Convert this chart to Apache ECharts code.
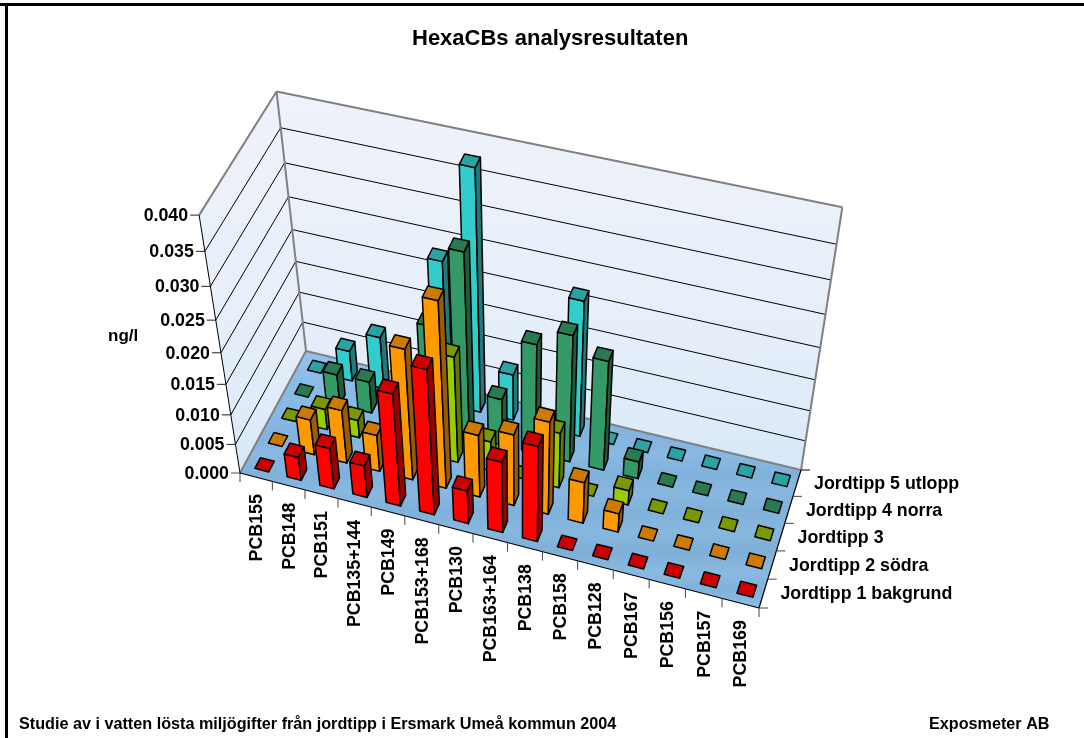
<!DOCTYPE html>
<html>
<head>
<meta charset="utf-8">
<style>html,body{margin:0;padding:0;background:#fff}#main{width:1084px;height:738px}</style>
<script src="https://cdn.jsdelivr.net/npm/echarts@6/dist/echarts.min.js"></script>
</head>
<body>
<div id="main"></div>
<script>
var compounds = ['PCB155','PCB148','PCB151','PCB135+144','PCB149','PCB153+168','PCB130','PCB163+164','PCB138','PCB158','PCB128','PCB167','PCB156','PCB157','PCB169'];
var sites = ['Jordtipp 1 bakgrund','Jordtipp 2 södra','Jordtipp 3','Jordtipp 4 norra','Jordtipp 5 utlopp'];
var valueTicks = ['0.000','0.005','0.010','0.015','0.020','0.025','0.030','0.035','0.040'];

var site1 = [0, 0.004, 0.007, 0.0055, 0.0187, 0.0238, 0.0057, 0.012, 0.016, 0, 0, 0, 0, 0, 0];
var site2 = [0, 0.006, 0.009, 0.0062, 0.0215, 0.03, 0.0105, 0.012, 0.0155, 0.007, 0.0032, 0, 0, 0, 0];
var site3 = [0, 0.0035, 0.003, 0.002, 0, 0.0175, 0.005, 0, 0.0093, 0, 0.0025, 0, 0, 0, 0];
var site4 = [0, 0.0052, 0.0053, 0, 0.017, 0.0295, 0.0078, 0.018, 0.0207, 0.018, 0.0029, 0, 0, 0, 0];
var site5 = [0, 0.0051, 0.0087, 0, 0.0232, 0.0378, 0.0077, 0, 0.022, 0, 0, 0, 0, 0, 0];
var siteValues = [site1, site2, site3, site4, site5];

// front, top, side
var siteColors = [
    ['#ff0000', '#cc0000', '#990000'],
    ['#ff9900', '#cc7a00', '#995c00'],
    ['#99cc00', '#7a9900', '#5c7a00'],
    ['#339966', '#297a52', '#1f5c3d'],
    ['#33cccc', '#29a3a3', '#1f7a7a']
];

var zMax = 0.04;
var barX = 0.43, barY = 0.42;
var barShift = 0.05; // bars sit a little right of the cell centre

// corners: floor front-left, front-right, back-right, back-left
var fl = [[240, 473], [759, 608], [801, 470], [306, 351]];
// top of the walls at front-left, back-right and back-left
var tops = [[[0, 0], [199, 213]], [[1, 1], [842, 211]], [[0, 1], [277, 90]]];

var H = (function () {
    var x = fl.map(function (p) { return p[0]; }), y = fl.map(function (p) { return p[1]; });
    var dx1 = x[1] - x[2], dx2 = x[3] - x[2], dx3 = x[0] - x[1] + x[2] - x[3];
    var dy1 = y[1] - y[2], dy2 = y[3] - y[2], dy3 = y[0] - y[1] + y[2] - y[3];
    var den = dx1 * dy2 - dx2 * dy1;
    var g = (dx3 * dy2 - dx2 * dy3) / den, h = (dx1 * dy3 - dx3 * dy1) / den;
    return {
        a: x[1] - x[0] + g * x[1], b: x[3] - x[0] + h * x[3], c: x[0],
        d: y[1] - y[0] + g * y[1], e: y[3] - y[0] + h * y[3], f: y[0],
        g: g, h: h
    };
})();

// height column of the camera matrix, least squares on the three wall corners
(function () {
    var X = [], Y = [], B = [], C = [];
    tops.forEach(function (t) {
        var u = t[0][0], v = t[0][1];
        var w = H.g * u + H.h * v + 1;
        X.push(t[1][0]); Y.push(t[1][1]);
        B.push(t[1][0] * w - (H.a * u + H.b * v + H.c));
        C.push(t[1][1] * w - (H.d * u + H.e * v + H.f));
    });
    function mean(a) { return (a[0] + a[1] + a[2]) / 3; }
    var mx = mean(X), my = mean(Y), mb = mean(B), mc = mean(C), top = 0, bot = 0;
    for (var i = 0; i < 3; i++) {
        top += (X[i] - mx) * (B[i] - mb) + (Y[i] - my) * (C[i] - mc);
        bot += (X[i] - mx) * (X[i] - mx) + (Y[i] - my) * (Y[i] - my);
    }
    H.r = -top / bot;
    H.p = mb + H.r * mx;
    H.q = mc + H.r * my;
})();

// u,v in 0..1 over the floor, z in 0..1 up the wall
function project(u, v, z) {
    var w = H.g * u + H.h * v + 1 + H.r * z;
    return [(H.a * u + H.b * v + H.c + H.p * z) / w, (H.d * u + H.e * v + H.f + H.q * z) / w];
}

function zScale(v) {
    return echarts.number.linearMap(v, [0, zMax], [0, 1], true);
}

function poly(pts, fill, stroke, lw) {
    return {type: 'polygon', shape: {points: pts}, style: {fill: fill, stroke: stroke || 'none', lineWidth: lw || 0, lineJoin: 'round'}};
}
function line(a, b, color, lw) {
    return {type: 'line', shape: {x1: a[0], y1: a[1], x2: b[0], y2: b[1]}, style: {stroke: color, lineWidth: lw, fill: 'none'}};
}
function label(x, y, text, align, rot) {
    return {
        type: 'text', x: x, y: y, rotation: rot || 0,
        style: {x: 0, y: 0, text: text, fill: '#000', font: 'bold 17.8px "Liberation Sans", Arial, sans-serif', align: align, verticalAlign: 'middle'}
    };
}

function wallGradient() {
    return new echarts.graphic.LinearGradient(0, 0, 0, 1, [
        {offset: 0, color: '#eff2f9'}, {offset: 0.55, color: '#e8eff9'}, {offset: 0.85, color: '#dfebf9'}, {offset: 1, color: '#d6e8f8'}
    ]);
}
function floorGradient() {
    var stops = [
        [0, '#93c1ea'], [0.12, '#8bbce8'], [0.25, '#86b8e4'], [0.33, '#82b3de'], [0.4, '#8ab9e2'],
        [0.48, '#7fb1db'], [0.55, '#88b8df'], [0.62, '#80b1d9'], [0.7, '#87b7dd'], [0.78, '#7eafd7'],
        [0.86, '#8ab9e0'], [0.93, '#80b2dc'], [1, '#8dbde6']
    ];
    return new echarts.graphic.LinearGradient(0, 0, 0, 1, stops.map(function (s) {
        return {offset: s[0], color: s[1]};
    }));
}

// walls, floor, grid lines, ticks and tick labels
function renderBox() {
    var ch = [];
    var a0 = project(0, 0, 0), b0 = project(1, 0, 0), c0 = project(1, 1, 0), d0 = project(0, 1, 0);
    var a1 = project(0, 0, 1), c1 = project(1, 1, 1), d1 = project(0, 1, 1);
    ch.push(poly([a0, d0, d1, a1], wallGradient()));
    ch.push(poly([d0, c0, c1, d1], wallGradient()));

    valueTicks.forEach(function (t) {
        var z = zScale(+t);
        var p = project(0, 0, z), q = project(0, 1, z), s = project(1, 1, z);
        if (z > 0 && z < 1) {
            ch.push(line(p, q, '#000', 1));
            ch.push(line(q, s, '#000', 1));
        }
        ch.push(line([p[0] - 9, p[1]], p, z < 0.01 ? '#555' : '#222', 1));
        ch.push(label(p[0] - 11, p[1] + 1, t, 'right'));
    });

    ch.push(poly([a0, b0, c0, d0], floorGradient()));
    ch.push(line(d0, c0, '#808080', 2));
    ch.push(line(a1, d1, '#808080', 2));
    ch.push(line(d1, c1, '#808080', 2));
    ch.push(line(d0, d1, '#808080', 2));
    ch.push(line(c0, c1, '#808080', 2));
    ch.push(line(a0, d0, '#808080', 2));
    ch.push(line(a0, a1, '#000', 1));
    ch.push(line(a0, b0, '#000', 1.2));
    ch.push(line(b0, c0, '#000', 1.2));

    compounds.forEach(function (name, i) {
        var p = project(i / compounds.length, 0, 0);
        ch.push(line(p, [p[0], p[1] + 9], '#444', 1));
        var m = project((i + 0.5) / compounds.length, 0, 0);
        ch.push(label(m[0] + 1, m[1] + 17, name, 'right', Math.PI / 2));
    });
    var e = project(1, 0, 0);
    ch.push(line(e, [e[0], e[1] + 9], '#444', 1));

    sites.forEach(function (name, j) {
        var p = project(1, j / sites.length, 0);
        ch.push(line(p, [p[0] + 9, p[1]], '#444', 1));
        var m = project(1, (j + 0.5) / sites.length, 0);
        ch.push(label(m[0] + 17, m[1] + 1, name, 'left'));
    });
    var f = project(1, 1, 0);
    ch.push(line(f, [f[0] + 9, f[1]], '#000', 1));

    return {type: 'group', children: ch};
}

function renderBar(params, api) {
    var i = api.value(0), j = api.value(1), z = zScale(api.value(2));
    var c = api.coord([i, j]), s = api.size([1, 1]);
    var rect = params.coordSys;
    var u = (c[0] - rect.x + barShift * s[0]) / rect.width, v = 1 - (c[1] - rect.y) / rect.height;
    var du = barX * s[0] / rect.width / 2, dv = barY * s[1] / rect.height / 2;
    var col = siteColors[j];

    var p00 = project(u - du, v - dv, 0), p10 = project(u + du, v - dv, 0), p11 = project(u + du, v + dv, 0);
    var t00 = project(u - du, v - dv, z), t10 = project(u + du, v - dv, z), t11 = project(u + du, v + dv, z), t01 = project(u - du, v + dv, z);
    var ch = [];
    if (z > 0) {
        ch.push(poly([p00, p10, t10, t00], col[0], '#000', 1.5));
        ch.push(poly([p10, p11, t11, t10], col[2], '#000', 1.5));
    }
    ch.push(poly([t00, t10, t11, t01], col[1], '#000', 1.5));
    return {type: 'group', children: ch};
}

// back row first, left to right, so nearer bars paint over
var barData = [];
for (var j = sites.length - 1; j >= 0; j--) {
    for (var i = 0; i < compounds.length; i++) {
        barData.push([i, j, siteValues[j][i]]);
    }
}

var myChart = echarts.init(document.getElementById('main'));
var textFont = '"Liberation Sans", Arial, sans-serif';

myChart.setOption({
    animation: false,
    title: [
        {text: 'HexaCBs analysresultaten', left: 412, top: 28, padding: 0, textStyle: {fontFamily: textFont, fontWeight: 'bold', fontSize: 22, color: '#000'}},
        {text: 'Studie av i vatten lösta miljögifter från jordtipp i Ersmark Umeå kommun 2004', left: 19, top: 717, padding: 0, textStyle: {fontFamily: textFont, fontWeight: 'bold', fontSize: 16.2, color: '#000'}},
        {text: 'Exposmeter AB', left: 929, top: 717, padding: 0, textStyle: {fontFamily: textFont, fontWeight: 'bold', fontSize: 16.2, color: '#000'}},
        {text: 'ng/l', left: 108, top: 328, padding: 0, textStyle: {fontFamily: textFont, fontWeight: 'bold', fontSize: 17, color: '#000'}}
    ],
    graphic: [
        {type: 'rect', z: -10, shape: {x: 0, y: 3, width: 1084, height: 3}, style: {fill: '#000'}},
        {type: 'rect', z: -10, shape: {x: 5, y: 3, width: 3, height: 735}, style: {fill: '#000'}}
    ],
    grid: {left: 0, right: 0, top: 0, bottom: 0, show: false},
    xAxis: {type: 'category', data: compounds, show: false},
    yAxis: {type: 'category', data: sites, show: false},
    series: [
        {type: 'custom', silent: true, clip: false, data: [[0, 0, 0]], renderItem: renderBox},
        {type: 'custom', silent: true, clip: false, data: barData, encode: {x: 0, y: 1}, renderItem: renderBar}
    ]
});
</script>
</body>
</html>
